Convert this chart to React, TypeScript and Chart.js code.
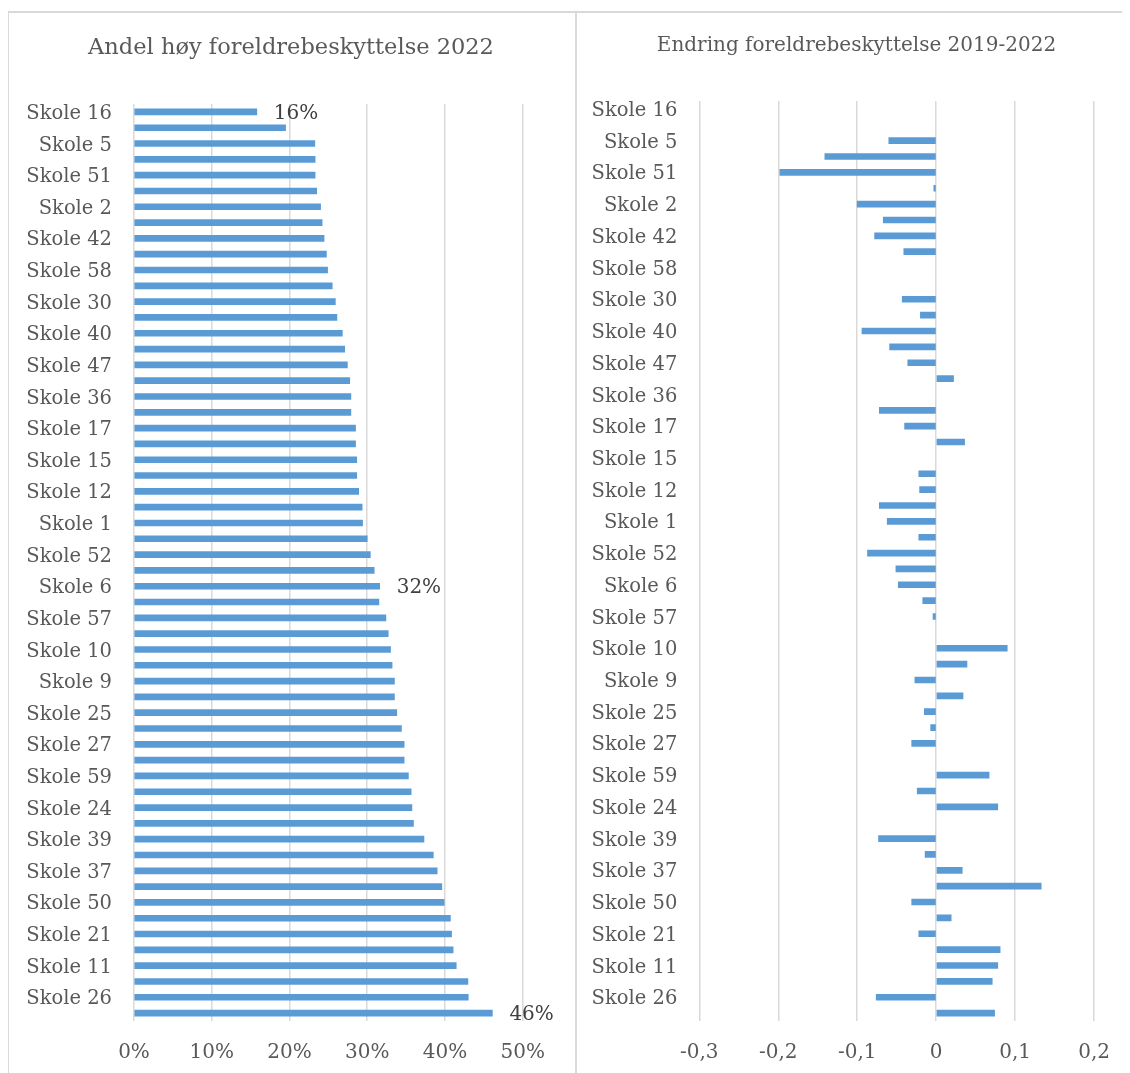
import React, { useEffect, useRef } from 'react';
import { Chart, registerables } from 'chart.js';

Chart.register(...registerables);

const SERIF = "'DejaVu Serif', 'Liberation Serif', serif";
const TEXT = '#595959';
const LABEL_TEXT = '#404040';
const GRID = '#d9d9d9';
const BAR = '#5b9bd5';

// Schools in the order they are ranked; every other row carries no visible name.
const schools = [
  'Skole 16', '', 'Skole 5', '', 'Skole 51', '', 'Skole 2', '', 'Skole 42', '',
  'Skole 58', '', 'Skole 30', '', 'Skole 40', '', 'Skole 47', '', 'Skole 36', '',
  'Skole 17', '', 'Skole 15', '', 'Skole 12', '', 'Skole 1', '', 'Skole 52', '',
  'Skole 6', '', 'Skole 57', '', 'Skole 10', '', 'Skole 9', '', 'Skole 25', '',
  'Skole 27', '', 'Skole 59', '', 'Skole 24', '', 'Skole 39', '', 'Skole 37', '',
  'Skole 50', '', 'Skole 21', '', 'Skole 11', '', 'Skole 26', '',
];

// Share of pupils with high parental protection, 2022
const shareHigh2022 = [
  0.158, 0.195, 0.2326, 0.233, 0.233, 0.235, 0.24, 0.242, 0.2445, 0.2475,
  0.249, 0.255, 0.259, 0.261, 0.268, 0.271, 0.2745, 0.2775, 0.279, 0.279,
  0.285, 0.285, 0.2865, 0.2865, 0.289, 0.2935, 0.294, 0.3, 0.304, 0.309,
  0.316, 0.315, 0.324, 0.327, 0.33, 0.332, 0.335, 0.335, 0.338, 0.344,
  0.3475, 0.3475, 0.353, 0.3565, 0.3575, 0.3595, 0.373, 0.385, 0.39, 0.396,
  0.399, 0.407, 0.4085, 0.4105, 0.4145, 0.4295, 0.43, 0.461,
];

// Change in parental protection from 2019 to 2022 (null where no 2019 figure exists)
const change2019to2022 = [
  null, null, -0.06, -0.141, -0.198, -0.003, -0.1, -0.067, -0.078, -0.041,
  null, null, -0.043, -0.02, -0.094, -0.059, -0.036, 0.022, null, -0.072,
  -0.04, 0.036, null, -0.022, -0.021, -0.072, -0.062, -0.022, -0.087, -0.051,
  -0.048, -0.017, -0.004, null, 0.09, 0.039, -0.027, 0.034, -0.015, -0.007,
  -0.031, null, 0.067, -0.024, 0.078, null, -0.073, -0.014, 0.033, 0.133,
  -0.031, 0.019, -0.022, 0.081, 0.078, 0.071, -0.076, 0.074,
];

const shareTicks = [0, 0.1, 0.2, 0.3, 0.4, 0.5];
const changeTicks = [-0.3, -0.2, -0.1, 0, 0.1, 0.2];
const labelledShareBars = [0, 30, 57];

const shareTitle = 'Andel høy foreldrebeskyttelse 2022';
const changeTitle = 'Endring foreldrebeskyttelse 2019-2022';

const formatPercent = (v: number) => `${Math.round(v * 100)}%`;
const formatDecimal = (v: number) =>
  Math.abs(v) < 1e-9 ? '0' : v.toFixed(1).replace('.', ',');

const panelTitle = {
  id: 'panelTitle',
  afterDraw(chart: any, _args: any, opts: any) {
    const { ctx } = chart;
    ctx.save();
    ctx.font = `${opts.size}px ${SERIF}`;
    ctx.fillStyle = TEXT;
    ctx.textAlign = 'center';
    ctx.textBaseline = 'middle';
    ctx.fillText(opts.text, opts.x, opts.y);
    ctx.restore();
  },
};

const valueLabels = {
  id: 'valueLabels',
  afterDatasetsDraw(chart: any, _args: any, opts: any) {
    if (!opts.indices || !opts.indices.length) return;
    const { ctx } = chart;
    const meta = chart.getDatasetMeta(0);
    const data = chart.data.datasets[0].data;
    ctx.save();
    ctx.font = `20px ${SERIF}`;
    ctx.fillStyle = LABEL_TEXT;
    ctx.textAlign = 'left';
    ctx.textBaseline = 'middle';
    for (const i of opts.indices) {
      const bar = meta.data[i];
      ctx.fillText(formatPercent(data[i]), bar.x + opts.gap, bar.y + 2);
    }
    ctx.restore();
  },
};

type PanelSpec = {
  values: (number | null)[];
  ticks: number[];
  format: (v: number) => string;
  axisWidth: number;
  padRight: number;
  padTop: number;
  title: string;
  titleSize: number;
  titleX: number;
  titleY: number;
  labelled: number[];
};

function buildConfig(p: PanelSpec): any {
  return {
    type: 'bar',
    data: {
      labels: schools,
      datasets: [
        {
          data: p.values,
          backgroundColor: BAR,
          borderWidth: 0,
          barThickness: 6,
        },
      ],
    },
    plugins: [panelTitle, valueLabels],
    options: {
      indexAxis: 'y',
      responsive: false,
      animation: false,
      devicePixelRatio: 1,
      layout: { padding: { top: p.padTop, right: p.padRight, bottom: 0, left: 0 } },
      plugins: {
        legend: { display: false },
        tooltip: { enabled: false },
        title: { display: false },
        panelTitle: { text: p.title, size: p.titleSize, x: p.titleX, y: p.titleY },
        valueLabels: { indices: p.labelled, gap: 17 },
      },
      scales: {
        x: {
          type: 'linear',
          min: p.ticks[0],
          max: p.ticks[p.ticks.length - 1],
          afterBuildTicks: (s: any) => {
            s.ticks = p.ticks.map((v) => ({ value: v }));
          },
          afterFit: (s: any) => {
            s.height = 52;
          },
          grid: { color: GRID, lineWidth: 1.5, drawTicks: false },
          border: { display: false },
          ticks: {
            padding: 20,
            color: TEXT,
            font: { family: SERIF, size: 20 },
            callback: (v: any) => p.format(Number(v)),
          },
        },
        y: {
          type: 'category',
          afterFit: (s: any) => {
            s.width = p.axisWidth;
          },
          grid: { display: false, drawTicks: false },
          border: { display: false },
          ticks: {
            autoSkip: false,
            padding: 22,
            labelOffset: 2,
            color: TEXT,
            font: { family: SERIF, size: 19.5 },
          },
        },
      },
    },
  };
}

const sharePanel: PanelSpec = {
  values: shareHigh2022,
  ticks: shareTicks,
  format: formatPercent,
  axisWidth: 126,
  padRight: 51.3,
  padTop: 92,
  title: shareTitle,
  titleSize: 22.5,
  titleX: 283,
  titleY: 36,
  labelled: labelledShareBars,
};

const changePanel: PanelSpec = {
  values: change2019to2022,
  ticks: changeTicks,
  format: formatDecimal,
  axisWidth: 123.3,
  padRight: 35,
  padTop: 89,
  title: changeTitle,
  titleSize: 20,
  titleX: 280.5,
  titleY: 34,
  labelled: [],
};

export default function App() {
  const leftRef = useRef<HTMLCanvasElement>(null);
  const rightRef = useRef<HTMLCanvasElement>(null);

  useEffect(() => {
    const charts: Chart[] = [];
    if (leftRef.current) charts.push(new Chart(leftRef.current, buildConfig(sharePanel)));
    if (rightRef.current) charts.push(new Chart(rightRef.current, buildConfig(changePanel)));
    return () => charts.forEach((c) => c.destroy());
  }, []);

  const border = `2px solid ${GRID}`;

  return (
    <div
      style={{
        position: 'relative',
        marginLeft: -1,
        marginTop: 3,
        width: 1123,
        height: 1062,
        overflow: 'hidden',
        background: '#fff',
      }}
    >
      <div
        style={{
          position: 'absolute',
          left: 0,
          top: 0,
          width: 570,
          height: 1100,
          boxSizing: 'border-box',
          borderTop: border,
          borderLeft: border,
          borderRight: border,
        }}
      />
      <div
        style={{
          position: 'absolute',
          left: 570,
          top: 0,
          width: 600,
          height: 1100,
          boxSizing: 'border-box',
          borderTop: border,
        }}
      />
      <canvas
        ref={leftRef}
        width={566}
        height={1061}
        style={{ position: 'absolute', left: 1, top: 1, display: 'block' }}
      />
      <canvas
        ref={rightRef}
        width={554}
        height={1061}
        style={{ position: 'absolute', left: 569, top: 1, display: 'block' }}
      />
    </div>
  );
}
